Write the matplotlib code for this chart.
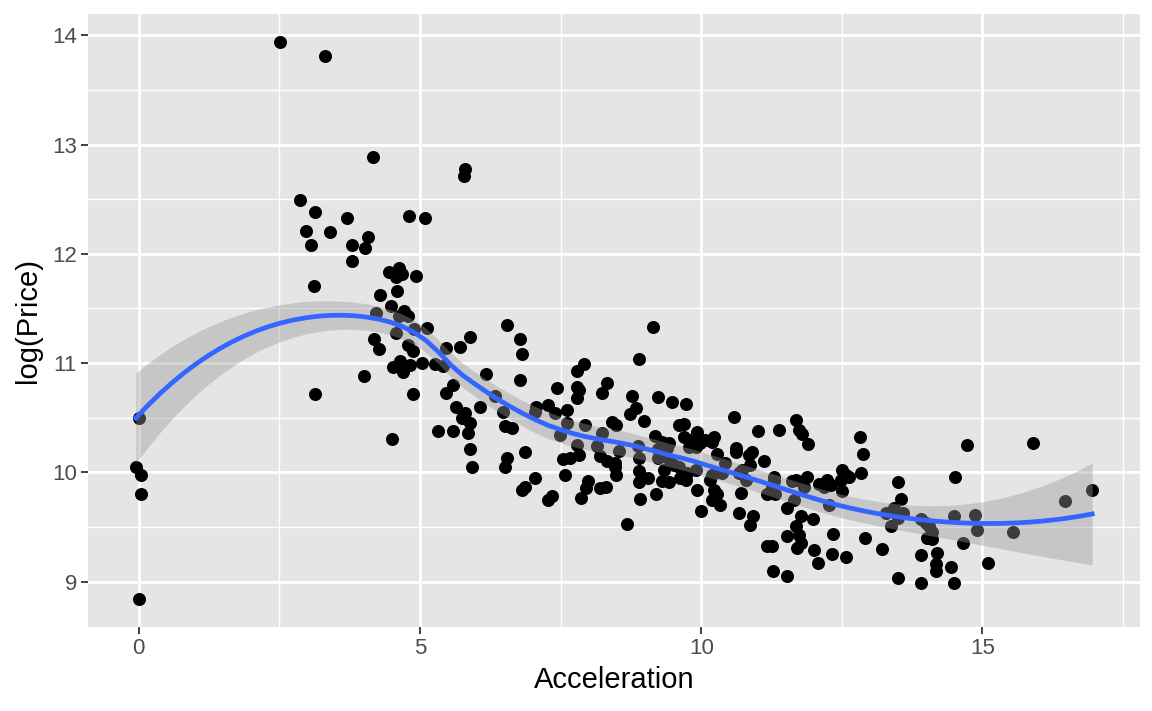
"""
Scatter of log(Price) vs Acceleration with a loess smooth (ggplot-like look).
"""
import numpy as np
import matplotlib
matplotlib.use("Agg")
import matplotlib.pyplot as plt
from matplotlib.ticker import MultipleLocator

# --- data ---
accel = [
    -0.05, 0.05, 0.04, 0.00, 0.00,
    2.52, 3.31, 4.17, 5.80, 5.79, 2.87, 3.13, 3.71, 4.81, 5.09, 2.98, 3.41, 3.07,
    4.08, 3.80, 4.02, 3.79, 3.11, 4.45, 4.63, 4.69, 4.58, 4.93, 4.29, 4.59, 4.49,
    4.72, 4.22, 4.63, 4.78, 5.13, 4.90, 4.58, 4.19, 4.28, 4.79, 4.88, 5.03, 4.64,
    4.52, 4.70, 4.82, 4.01, 4.88, 4.50, 3.13,
    5.47, 5.26, 5.41, 5.71, 5.89, 6.54, 6.78, 6.82, 6.18, 5.59, 5.47, 5.65, 5.80,
    6.06, 5.74, 5.89, 5.86, 5.32, 5.59, 5.89, 5.92, 6.33, 6.48, 6.51, 6.63, 6.54,
    6.52, 6.87, 6.78, 7.43, 7.07, 7.04, 7.28, 7.40, 7.49, 7.05, 6.87, 6.81, 7.55,
    7.58,
    7.67, 7.82, 7.79, 7.61, 7.94, 8.23, 8.14, 8.20, 8.32, 8.47, 8.53, 8.41, 8.48,
    8.23, 8.32, 7.79, 7.92, 7.79, 7.83, 7.79, 7.61, 7.34, 7.28, 7.86, 8.68, 8.92,
    9.19, 10.00, 9.93, 9.73, 9.43, 8.89, 8.89, 9.06, 9.33, 8.49, 8.47, 8.20, 8.31,
    7.99, 7.96, 9.14, 8.89, 8.77, 8.84, 8.74, 8.98, 9.24, 9.48, 9.73, 9.18, 9.60,
    9.70, 9.69, 9.93, 9.98, 10.22, 10.19, 10.59, 10.61, 10.28, 10.43, 10.67, 10.67,
    9.75, 9.90, 9.30, 9.42, 9.51, 9.60, 9.24, 8.89, 8.88, 9.42, 9.63, 9.81, 9.90,
    9.78, 9.30, 9.39, 9.30, 9.24, 10.22, 10.28, 10.34, 10.19,
    11.01, 11.39, 11.68, 11.74, 11.80, 11.90, 12.82, 12.88, 12.84, 12.51, 12.57,
    12.48, 12.50, 12.63, 10.07, 10.61, 10.90, 10.85, 11.11, 10.87, 10.72, 10.79,
    10.19, 10.16, 10.37, 11.29, 11.29, 11.26, 11.62, 11.68, 11.88, 11.83, 12.09,
    12.24, 12.30, 12.18, 12.27, 11.65, 11.53, 11.17, 11.31, 10.70, 10.92, 10.87,
    11.78, 11.99, 11.68, 11.74, 11.77, 11.71, 11.53, 11.26, 11.17, 12.00, 12.08,
    12.33, 12.34, 12.58, 12.91, 13.22, 11.28, 11.53,
    13.50, 13.90, 14.50, 13.50, 13.55, 13.43, 13.58, 13.28, 13.37, 13.49, 13.90,
    13.99, 14.11, 14.02, 14.11, 13.90, 14.20, 14.17, 14.17, 14.44, 14.51, 14.50,
    14.65, 14.73, 15.89, 14.05, 14.87, 14.90, 15.54, 15.09, 16.47, 16.95,
]
log_price = [
    10.05, 9.98, 9.80, 8.84, 10.50,
    13.94, 13.81, 12.89, 12.78, 12.71, 12.49, 12.38, 12.33, 12.35, 12.33, 12.21,
    12.20, 12.08, 12.15, 12.08, 12.05, 11.93, 11.71, 11.83, 11.87, 11.82, 11.79,
    11.80, 11.62, 11.66, 11.52, 11.48, 11.46, 11.43, 11.43, 11.32, 11.31, 11.28,
    11.22, 11.13, 11.17, 11.11, 11.00, 11.02, 10.96, 10.92, 10.98, 10.88, 10.72,
    10.31, 10.72,
    11.14, 10.99, 10.97, 11.15, 11.24, 11.35, 11.22, 11.08, 10.90, 10.80, 10.73,
    10.60, 10.54, 10.60, 10.50, 10.45, 10.36, 10.38, 10.38, 10.21, 10.05, 10.70,
    10.55, 10.42, 10.41, 10.13, 10.05, 10.19, 10.85, 10.77, 10.60, 10.55, 10.62,
    10.54, 10.34, 9.95, 9.87, 9.84, 10.12, 9.98,
    10.13, 10.16, 10.25, 10.45, 10.43, 10.36, 10.24, 10.15, 10.10, 10.09, 10.20,
    10.46, 10.43, 10.73, 10.82, 10.93, 10.99, 10.78, 10.75, 10.68, 10.57, 9.78,
    9.75, 9.77, 9.53, 9.76, 9.80, 9.65, 9.84, 9.93, 9.91, 9.91, 10.01, 9.95,
    10.02, 9.98, 10.05, 9.86, 9.87, 9.92, 9.86, 11.33, 11.04, 10.70, 10.59, 10.53,
    10.47, 10.69, 10.64, 10.63, 10.33, 10.43, 10.44, 10.32, 10.37, 10.27, 10.32,
    10.28, 10.51, 10.22, 10.17, 10.09, 9.99, 9.63, 9.99, 10.02, 10.15, 10.12,
    10.07, 10.05, 10.21, 10.13, 10.24, 10.27, 9.95, 10.30, 10.23, 10.23, 10.28,
    10.22, 9.92, 10.13, 9.84, 9.80, 9.70, 9.75,
    10.38, 10.39, 10.48, 10.39, 10.35, 10.26, 10.32, 10.17, 9.99, 10.02, 9.98,
    9.93, 9.83, 9.96, 10.30, 10.19, 10.19, 10.16, 10.10, 10.07, 10.02, 9.93,
    9.98, 9.93, 9.99, 9.96, 9.92, 9.87, 9.92, 9.93, 9.96, 9.87, 9.89,
    9.93, 9.88, 9.87, 9.70, 9.75, 9.67, 9.80, 9.80, 9.81, 9.60, 9.52,
    9.60, 9.57, 9.51, 9.43, 9.35, 9.31, 9.42, 9.33, 9.33, 9.29, 9.17,
    9.25, 9.44, 9.23, 9.40, 9.30, 9.10, 9.05,
    9.03, 8.99, 8.99, 9.91, 9.76, 9.67, 9.63, 9.63, 9.51, 9.58, 9.57,
    9.54, 9.45, 9.40, 9.39, 9.24, 9.26, 9.16, 9.10, 9.13, 9.96, 9.60,
    9.35, 10.25, 10.27, 9.51, 9.61, 9.47, 9.45, 9.17, 9.74, 9.84,
]
x_ticks = [0, 5, 10, 15]
y_ticks = [9, 10, 11, 12, 13, 14]


def loess(x, y, grid, span=0.75):
    """Local quadratic fit with tricube weights, like R's loess() defaults."""
    n = len(x)
    q = int(np.floor(n * span))

    def row(x0):
        d = np.abs(x - x0)
        h = np.sort(d)[q - 1]
        w = np.clip(1 - (d / h) ** 3, 0, None) ** 3
        X = np.column_stack([np.ones(n), x - x0, (x - x0) ** 2])
        XtW = X.T * w
        return np.linalg.solve(XtW @ X, XtW)[0]

    L = np.array([row(xi) for xi in x])
    resid = y - L @ y
    M = np.eye(n) - L
    delta1 = np.trace(M.T @ M)
    s = np.sqrt(np.sum(resid ** 2) / delta1)
    Lg = np.array([row(g) for g in grid])
    fit = Lg @ y
    se = s * np.sqrt(np.sum(Lg ** 2, axis=1))
    return fit, se


x = np.asarray(accel)
y = np.asarray(log_price)
grid = np.linspace(x.min(), x.max(), 80)
fit, se = loess(x, y, grid)
tcrit = 1.97

plt.rcParams["font.family"] = ["Liberation Sans", "DejaVu Sans"]

fig = plt.figure(figsize=(11.52, 7.11), dpi=100)
ax = fig.add_axes([88 / 1152, 1 - 627 / 711, (1140 - 88) / 1152, (627 - 14) / 711])
ax.set_facecolor("#E5E5E5")
for sp in ax.spines.values():
    sp.set_visible(False)

ax.scatter(x, y, s=88, color="black", linewidths=0, zorder=2)
ax.fill_between(grid, fit - tcrit * se, fit + tcrit * se, color="#999999",
                alpha=0.4, linewidth=0, zorder=3)
ax.plot(grid, fit, color="#3366FF", linewidth=3.4, zorder=4)

# ggplot-style 5% expansion
xr = x.max() - x.min()
yr = y.max() - y.min()
ax.set_xlim(x.min() - 0.05 * xr, x.max() + 0.05 * xr)
ax.set_ylim(y.min() - 0.05 * yr, y.max() + 0.05 * yr)

ax.set_xticks(x_ticks)
ax.set_yticks(y_ticks)
ax.xaxis.set_minor_locator(MultipleLocator(2.5))
ax.yaxis.set_minor_locator(MultipleLocator(0.5))
ax.set_axisbelow(True)
ax.grid(which="major", color="white", linewidth=2.0)
ax.grid(which="minor", color="white", linewidth=1.0)
ax.tick_params(which="minor", length=0)
ax.tick_params(which="major", length=5, width=1.3, color="#333333",
               labelsize=16, labelcolor="#4D4D4D", pad=3)

ax.set_xlabel("Acceleration", fontsize=21, color="black", labelpad=5)
ax.set_ylabel("log(Price)", fontsize=21, color="black", labelpad=7)

fig.savefig("out.png", dpi=100)
